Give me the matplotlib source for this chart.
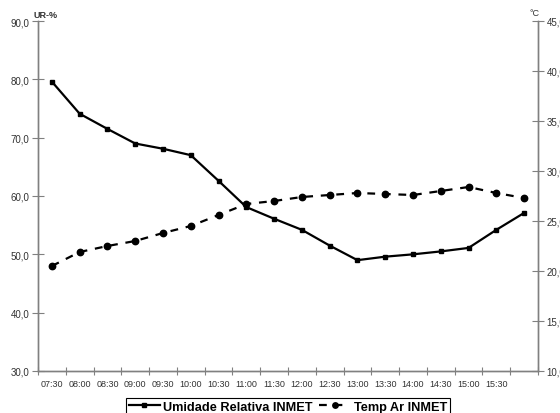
import numpy as np
import matplotlib.pyplot as plt

plt.rcParams['font.family'] = ['Liberation Sans', 'DejaVu Sans']

# Dados
horas = ['07:30', '08:00', '08:30', '09:00', '09:30', '10:00', '10:30', '11:00', '11:30',
         '12:00', '12:30', '13:00', '13:30', '14:00', '14:30', '15:00', '15:30', '16:00']
ur = [79.6, 74.1, 71.5, 69.0, 68.1, 67.0, 62.6, 58.1, 56.1,
      54.2, 51.5, 49.0, 49.6, 50.0, 50.5, 51.1, 54.2, 57.1]
temp = [20.5, 21.9, 22.5, 23.0, 23.8, 24.5, 25.6, 26.7, 27.0,
        27.4, 27.6, 27.8, 27.7, 27.6, 28.0, 28.4, 27.8, 27.3]
rotulos_x = horas[:-1]  # o Excel omitiu o ultimo rotulo
ticks_ur = [30, 40, 50, 60, 70, 80, 90]
ticks_t = [10, 15, 20, 25, 30, 35, 40, 45]

cinza = '#808080'
texto = '#333333'

fig = plt.figure(figsize=(5.6, 4.14), dpi=100)
ax = fig.add_axes([38/560, 1 - 372/414, 500/560, 350/414])
ax2 = ax.twinx()

x = np.arange(len(horas))
l1, = ax.plot(x, ur, color='black', lw=1.6, marker='s', ms=3)
l2, = ax2.plot(x, temp, color='black', lw=1.6, ls=(0, (3.5, 3.5)), marker='o', ms=4.6)

ax.set_xlim(-0.5, len(horas) - 0.5)
ax.set_ylim(30, 90)
ax2.set_ylim(10, 45)

fmt = lambda v: f'{v:.1f}'.replace('.', ',')
ax.set_yticks(ticks_ur)
ax.set_yticklabels([fmt(v) for v in ticks_ur])
ax2.set_yticks(ticks_t)
ax2.set_yticklabels([fmt(v) for v in ticks_t])

# rotulos nas categorias, marcas entre categorias
ax.set_xticks(np.arange(len(horas) + 1) - 0.5)
ax.set_xticklabels([])
ax.set_xticks(x[:-1], minor=True)
ax.set_xticklabels(rotulos_x, minor=True)
ax.tick_params(axis='x', which='minor', length=0, pad=6, labelsize=6.5, labelcolor=texto)
ax.tick_params(axis='x', which='major', direction='inout', length=6, color=cinza)

ax.tick_params(axis='y', direction='inout', length=8, color=cinza, labelsize=7,
               labelcolor=texto, pad=2)
ax2.tick_params(axis='y', direction='inout', length=8, color=cinza, labelsize=7,
                labelcolor=texto, pad=2)

for a in (ax, ax2):
    a.spines['top'].set_visible(False)
    for s in ('left', 'right', 'bottom'):
        a.spines[s].set_color(cinza)
        a.spines[s].set_linewidth(1.0)

fig.text(34/560, 1 - 15/414, 'UR-%', fontsize=6.5, fontweight='bold', color=texto,
         ha='left', va='center')
fig.text(529/560, 1 - 14/414, '°C', fontsize=6.5, color=texto, ha='left', va='center')

leg = fig.legend([l1, l2], ['Umidade Relativa INMET', 'Temp Ar INMET'],
                 loc='upper center', bbox_to_anchor=(288/560, 1 - 393/414), ncol=2,
                 frameon=True, fancybox=False, edgecolor='black', framealpha=1,
                 prop={'weight': 'bold', 'size': 9.2}, handlelength=2.4,
                 columnspacing=0.5, handletextpad=0.3, borderpad=0.2,
                 markerscale=0.85)
leg.get_frame().set_linewidth(0.8)

fig.savefig('out.png', dpi=100)
